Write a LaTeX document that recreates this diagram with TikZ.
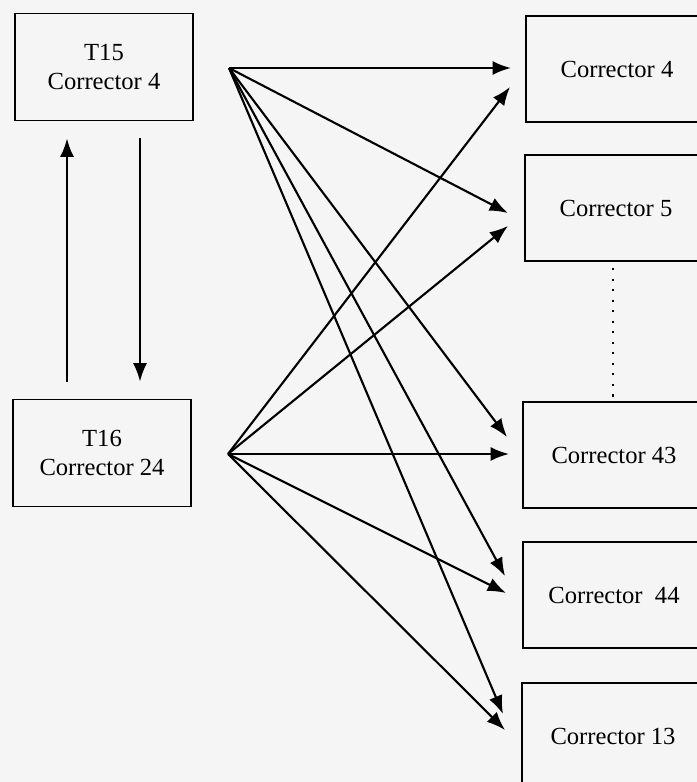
\documentclass[tikz,border=0pt]{standalone}
\usepackage{fontspec}
\setmainfont{Liberation Serif}
\usetikzlibrary{arrows.meta}
\usetikzlibrary{math}

\tikzset{
  corrbox/.style={draw, line width=1.1pt, minimum width=3.64cm, minimum height=2.12cm, align=center, font=\fontsize{14}{16}\selectfont},
  teachbox/.style={corrbox, minimum width=3.56cm, minimum height=2.14cm},
  link/.style={-{Latex[length=10.5pt,width=8pt]}, line width=1.2pt}
}

\begin{document}
\begin{tikzpicture}[x=0.02cm, y=-0.02cm]
\tikzmath{
\W=697;
\H=782;
\gap=0.34;
}
\fill[black!4] (0,0) rectangle (\W,\H);
\useasboundingbox (0,0) rectangle (\W,\H);
\clip (0,0) rectangle (\W,\H);
%teachers
\node[teachbox] (t15) at (104,67) {T15\\Corrector 4};
\node[teachbox] (t16) at (102,453) {T16\\Corrector 24};
%correctors
\node[corrbox] (c4) at (617,69) {Corrector 4};
\node[corrbox] (c5) at (616,208) {Corrector 5};
\node[corrbox] (c43) at (614,455) {Corrector 43};
\node[corrbox] (c44) at (614,595) {Corrector\ \ 44};
\node[corrbox] (c13) at (613,736) {Corrector 13};

%between the two teachers
\coordinate (uparr) at (67,0);
\coordinate (dnarr) at (140,0);
\draw[link, shorten <=\gap cm, shorten >=\gap cm] (t16.north -| uparr) -- (t15.south -| uparr);
\draw[link, shorten <=\gap cm, shorten >=\gap cm] (t15.south -| dnarr) -- (t16.north -| dnarr);

%dots between 5 and 43
\coordinate (dotx) at (613,0);
\draw[dash pattern=on 1.2pt off 4.8pt, line width=1.3pt] (c5.south -| dotx) ++(0,6) -- (c43.north -| dotx);

%fan points
\coordinate (s15) at (229,68);
\coordinate (s16) at (228,454);

%arrow ends
\coordinate (c4a) at (511,68);
\coordinate (c4b) at (510,87);
\coordinate (c5a) at (508,213);
\coordinate (c5b) at (508,226);
\coordinate (c43a) at (507,437);
\coordinate (c43b) at (509,454);
\coordinate (c44a) at (505,576);
\coordinate (c44b) at (506,593);
\coordinate (c13a) at (503,714);
\coordinate (c13b) at (505,730);

\draw[link] (s15) -- (c4a);
\draw[link] (s15) -- (c5a);
\draw[link] (s15) -- (c43a);
\draw[link] (s15) -- (c44a);
\draw[link] (s15) -- (c13a);

\draw[link] (s16) -- (c4b);
\draw[link] (s16) -- (c5b);
\draw[link] (s16) -- (c43b);
\draw[link] (s16) -- (c44b);
\draw[link] (s16) -- (c13b);
\end{tikzpicture}
\end{document}
